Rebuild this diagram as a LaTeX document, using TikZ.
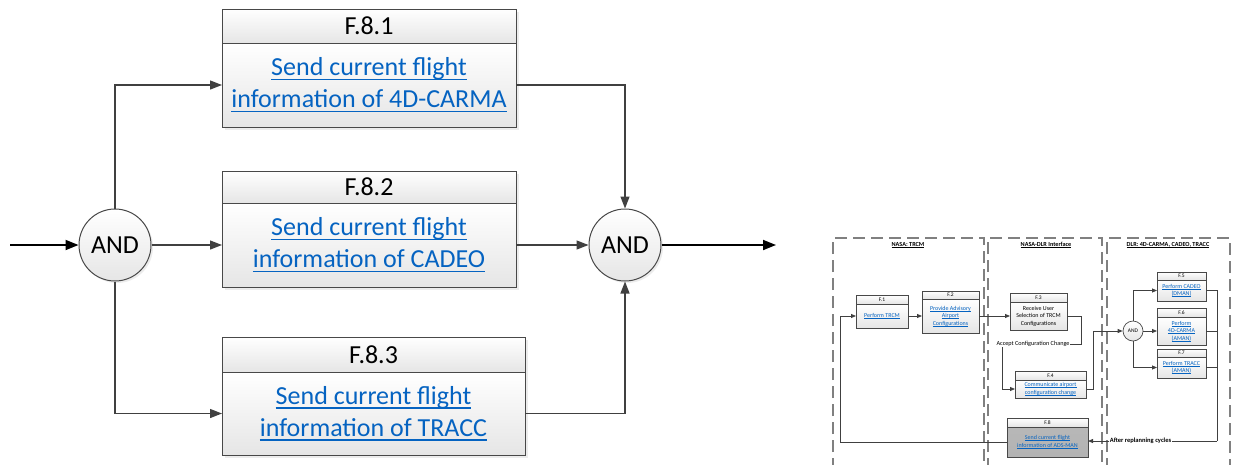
\documentclass[tikz,border=0pt]{standalone}
\usepackage{fontspec}
\setmainfont{Carlito}
\usetikzlibrary{arrows.meta,shadows,calc}
\definecolor{linkblue}{RGB}{5,99,193}
\definecolor{edge}{RGB}{64,64,64}
\definecolor{boxline}{RGB}{72,72,72}
\newsavebox{\myulbox}
\newcommand{\myul}[1]{\sbox{\myulbox}{#1}\rlap{\rule[-0.16em]{\wd\myulbox}{0.06em}}\usebox{\myulbox}}
\newcommand{\mkbox}[9]{%
  \node[hdr#1, minimum width={#4pt-#3pt}, minimum height={#6pt-#5pt}] (#2h) at (#3,#5) {#8};
  \node[bdy#1, minimum width={#4pt-#3pt}, minimum height={#7pt-#6pt}] (#2b) at (#3,#6) {#9};}
\tikzset{
  boxbase/.style={draw=boxline, top color=white, bottom color=black!10, inner sep=0pt, outer sep=0pt, anchor=north west, align=center},
  hdrB/.style={boxbase, line width=1pt, font=\fontsize{26}{30}\selectfont,
    drop shadow={shadow xshift=3pt, shadow yshift=-3pt, fill=black!15}},
  bdyB/.style={boxbase, line width=1pt, text=linkblue,
    font=\fontsize{26}{32}\selectfont,
    drop shadow={shadow xshift=3pt, shadow yshift=-3pt, fill=black!15}},
  hdrS/.style={boxbase, line width=.7pt, font=\fontsize{5.5}{6}\selectfont,
    drop shadow={shadow xshift=1pt, shadow yshift=-1pt, fill=black!15}},
  bdyS/.style={boxbase, line width=.7pt, text=linkblue,
    font=\fontsize{6}{7.5}\selectfont,
    drop shadow={shadow xshift=1pt, shadow yshift=-1pt, fill=black!15}},
  hdrG/.style={hdrS},
  bdyG/.style={bdyS, top color=black!28, bottom color=black!30},
  gate/.style={circle, draw=boxline, line width=1pt, top color=white, bottom color=black!10,
    minimum size=72pt, inner sep=0pt, font=\fontsize{26}{30}\selectfont,
    drop shadow={shadow xshift=2pt, shadow yshift=-2pt, fill=black!15}},
  igate/.style={circle, draw=boxline, line width=.7pt, top color=white, bottom color=black!10,
    minimum size=20pt, inner sep=0pt, font=\fontsize{5.5}{6}\selectfont},
  conn/.style={draw=edge, line width=1.3pt, -{Triangle[length=12pt,width=9pt]}},
  ioarrow/.style={draw=black, line width=1.8pt, -{Triangle[length=13pt,width=10pt]}},
  iconn/.style={draw=edge, line width=.8pt, -{Triangle[length=5pt,width=4pt]}},
  iline/.style={draw=edge, line width=.8pt},
  lane/.style={draw=black!50, line width=1.1pt, dash pattern=on 12pt off 6pt},
  lanetitle/.style={inner sep=0pt, font=\bfseries\fontsize{6.2}{7}\selectfont},
  ilabel/.style={fill=white, inner sep=0.6pt, font=\fontsize{6.2}{7}\selectfont},
}
\begin{document}
\begin{tikzpicture}[x=1pt,y=-1pt]
\useasboundingbox (0,0) rectangle (1233,464);

% ---------- main diagram ----------
\mkbox{B}{f81}{222}{516}{9}{43}{127}{F.8.1}{\myul{Send current flight}\\\myul{information of 4D-CARMA}}
\mkbox{B}{f82}{222}{516}{171}{203}{287}{F.8.2}{\myul{Send current flight}\\\myul{information of CADEO}}
\mkbox{B}{f83}{222}{525}{337}{372}{455}{F.8.3}{\myul{Send current flight}\\\myul{information of TRACC}}

\node[gate] (andL) at (115,245) {AND};
\node[gate] (andR) at (625,245) {AND};
\coordinate (in) at (10,245);
\coordinate (out) at (776,245);

\draw[ioarrow] (in) -- (andL.west);
\draw[conn] (andL.north) |- (f81b.west);
\draw[conn] (andL.east) -- (andL.east -| f82b.west);
\draw[conn] (andL.south) |- (f83b.west);
\draw[conn] (f81b.east) -| (andR.north);
\draw[conn] (f82b.east |- andR.west) -- (andR.west);
\draw[conn] (f83b.east) -| (andR.south);
\draw[ioarrow] (andR.east) -- (out);

% ---------- inset ----------
\draw[lane] (833,470) -- (833,238) -- (984,238) -- (984,470);
\draw[lane] (988,470) -- (988,238) -- (1102,238) -- (1102,470);
\draw[lane] (1107,470) -- (1107,238) -- (1230,238) -- (1230,470);
\node[lanetitle] (t1) at (908,245) {\myul{NASA: TRCM}};
\node[lanetitle] (t2) at (1046,245) {\myul{NASA-DLR Interface}};
\node[lanetitle] (t3) at (1168,245) {\myul{DLR: 4D-CARMA, CADEO, TRACC}};

\mkbox{S}{i1}{856}{908}{295}{304}{328}{F.1}{\myul{Perform TRCM}}
\mkbox{S}{i2}{922}{979}{291}{299}{333}{F.2}{\myul{Provide Advisory}\\\myul{Airport}\\\myul{Configurations}}
\mkbox{S}{i3}{1010}{1067}{293}{302}{330}{F.3}{\textcolor{black}{Receive User}\\\textcolor{black}{Selection of TRCM}\\\textcolor{black}{Configurations}}
\mkbox{S}{i4}{1015}{1086}{371}{380}{398}{F.4}{\myul{Communicate airport}\\\myul{configuration change}}
\mkbox{S}{i5}{1157}{1206}{272}{280}{301}{F.5}{\myul{Perform CADEO}\\\myul{(DMAN)}}
\mkbox{S}{i6}{1157}{1206}{308}{317}{345}{F.6}{\myul{Perform}\\\myul{4D-CARMA}\\\myul{(AMAN)}}
\mkbox{S}{i7}{1157}{1206}{349}{357}{378}{F.7}{\myul{Perform TRACC}\\\myul{(AMAN)}}
\mkbox{G}{i8}{1007}{1088}{418}{427}{457}{F.8}{\myul{Send current flight}\\\myul{information of ADS-MAN}}
\node[igate] (iand) at (1133,331) {AND};

\coordinate (c1) at (840,380);
\coordinate (c2) at (1081,344);
\coordinate (c3) at (1002,344);
\coordinate (c4) at (1093,331);
\coordinate (c5) at (1217,441);

\draw[iconn] (i8b.west) -| (c1) |- (i1b.west);
\draw[iconn] (i1b.east) -- (i2b.west);
\draw[iconn] (i2b.east) -- (i3b.west);
\draw[iline] (i3b.east) -| (c2) -- (c3);
\draw[iconn] (c3) |- (i4b.west);
\draw[iconn] (i4b.east) -| (c4) -- (iand.west);
\draw[iconn] (iand.north) |- (i5b.west);
\draw[iconn] (iand.east) -- (i6b.west);
\draw[iconn] (iand.south) |- (i7b.west);
\draw[iline] (i5b.east) -| (c5);
\draw[iline] (i6b.east) -- (i6b.east -| c5);
\draw[iline] (i7b.east) -- (i7b.east -| c5);
\draw[iconn] (c5) -- (c5 -| i8b.east);
\node[ilabel] (acc) at (1033,344) {Accept Configuration Change};
\node[ilabel, font=\bfseries\fontsize{6.5}{7}\selectfont, anchor=west] (arc) at (1109,441) {After replanning cycles};
\end{tikzpicture}
\end{document}
